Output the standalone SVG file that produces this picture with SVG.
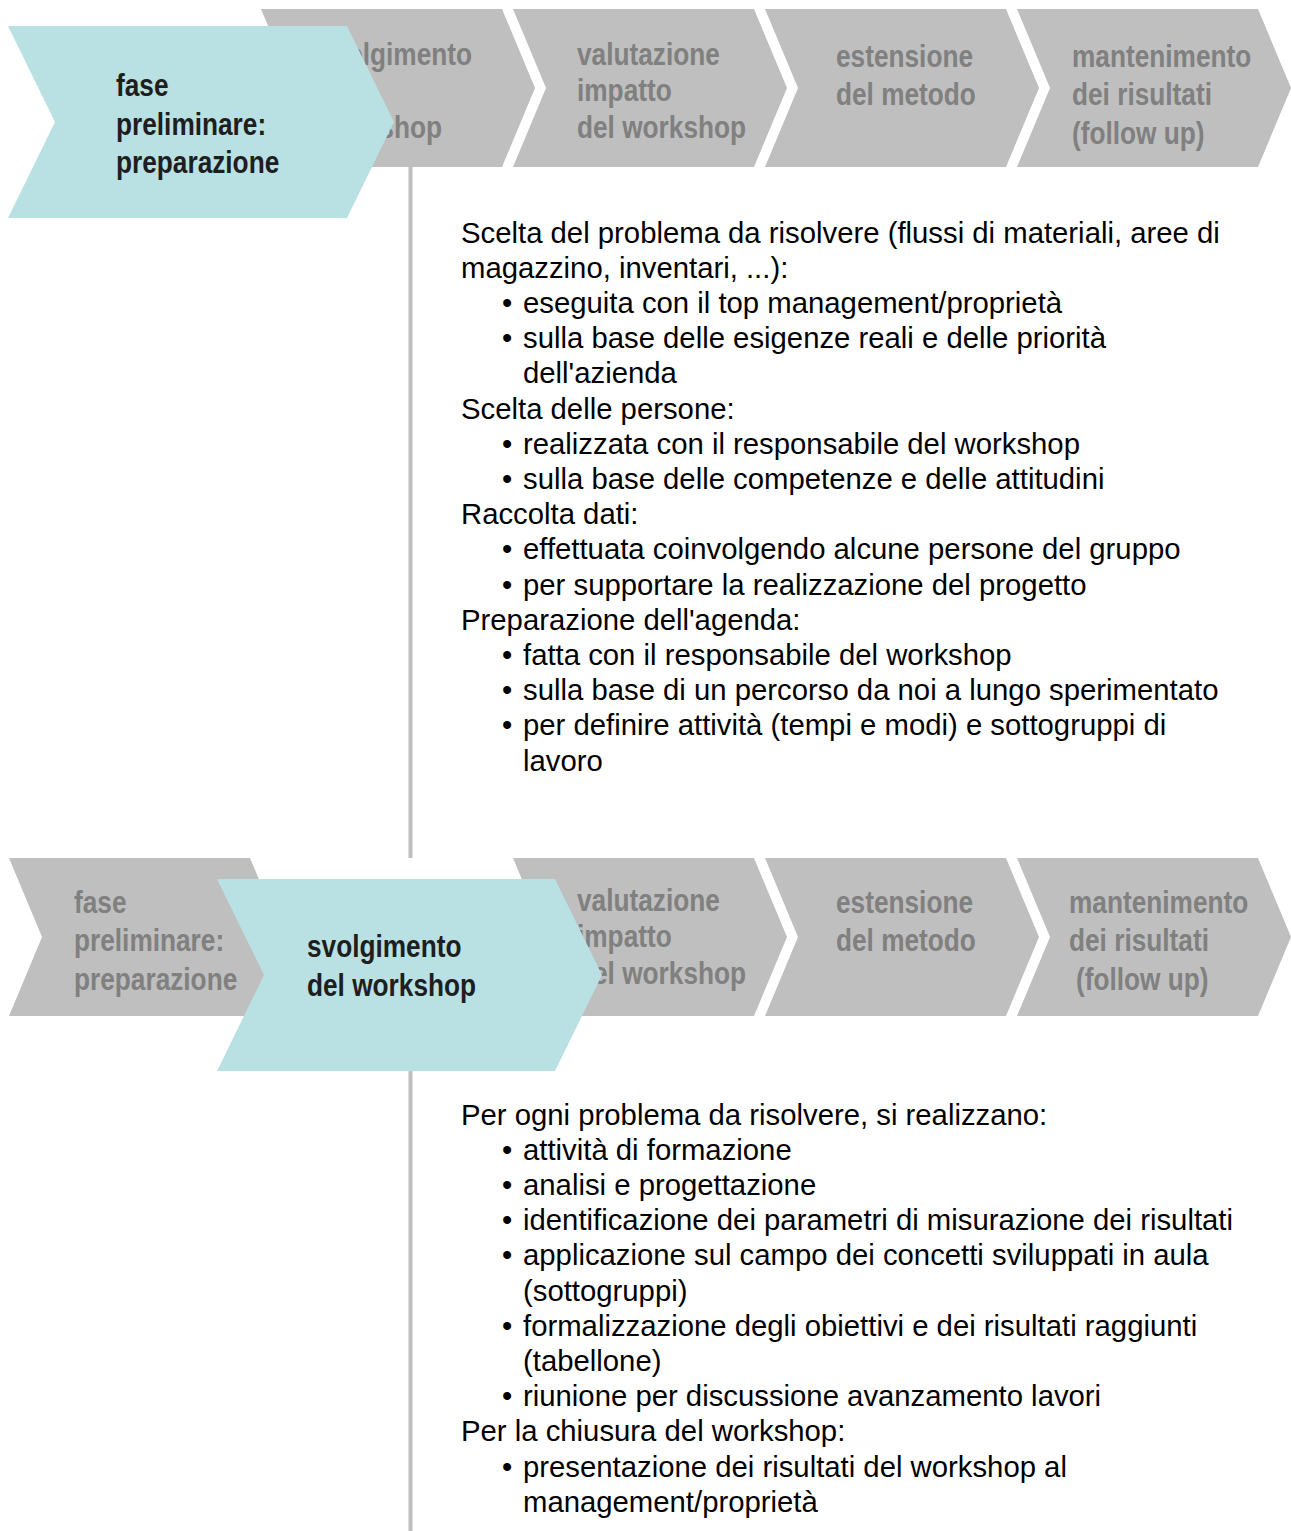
<svg xmlns="http://www.w3.org/2000/svg" width="1291" height="1531" viewBox="0 0 1291 1531">
<style>
.g{fill:#bfbfbf}
.b{fill:#b9e0e3}
.gt{font-family:"Liberation Sans",Arial,sans-serif;font-weight:bold;font-size:32px;fill:#808080}
.bt{font-family:"Liberation Sans",Arial,sans-serif;font-weight:bold;font-size:32px;fill:#1e1e1e}
.tx{font-family:"Liberation Sans",Arial,sans-serif;font-size:29.3px;fill:#000}
.ln{stroke:#bfbfbf;stroke-width:4;fill:none}
</style>
<rect width="1291" height="1531" fill="#fff"/>
<g id="connectors">
<line class="ln" x1="410.5" y1="166" x2="410.5" y2="858"/>
<line class="ln" x1="410.5" y1="1071" x2="410.5" y2="1531"/>
</g>
<!-- top row -->
<g id="top-svolgimento">
<path class="g" d="M261,9 H502 L535,88 L502,167 H261 L294,88 Z"/>
<text class="gt" text-anchor="end" transform="matrix(0.82,0,0,1,472,0)"><tspan x="0" y="65">svolgimento</tspan></text>
<text class="gt" text-anchor="end" transform="matrix(0.82,0,0,1,442,0)"><tspan x="0" y="138">del workshop</tspan></text>
</g>
<g id="top-valutazione">
<path class="g" d="M513,9 H754 L787,88 L754,167 H513 L546,88 Z"/>
<text class="gt" transform="matrix(0.82,0,0,1,577,0)"><tspan x="0" y="65">valutazione</tspan><tspan x="0" y="101">impatto</tspan><tspan x="0" y="138">del workshop</tspan></text>
</g>
<g id="top-estensione">
<path class="g" d="M765,9 H1006 L1039,88 L1006,167 H765 L798,88 Z"/>
<text class="gt" transform="matrix(0.82,0,0,1,836,0)"><tspan x="0" y="67">estensione</tspan><tspan x="0" y="105.5">del metodo</tspan></text>
</g>
<g id="top-mantenimento">
<path class="g" d="M1017,9 H1258 L1291,88 L1258,167 H1017 L1050,88 Z"/>
<text class="gt" transform="matrix(0.82,0,0,1,1072,0)"><tspan x="0" y="67">mantenimento</tspan><tspan x="0" y="105.5">dei risultati</tspan><tspan x="0" y="144">(follow up)</tspan></text>
</g>
<g id="top-fase-preliminare">
<path class="b" d="M8,26 H347 L394,122 L347,218 H8 L55,122 Z"/>
<text class="bt" transform="matrix(0.82,0,0,1,116,0)"><tspan x="0" y="96.5">fase</tspan><tspan x="0" y="135">preliminare:</tspan><tspan x="0" y="173.5">preparazione</tspan></text>
</g>
<g id="top-text">
<text class="tx">
<tspan x="461" y="242.5">Scelta del problema da risolvere (flussi di materiali, aree di</tspan>
<tspan x="461" y="277.7">magazzino, inventari, ...):</tspan>
<tspan x="502" y="312.9">•</tspan><tspan x="523" y="312.9">eseguita con il top management/proprietà</tspan>
<tspan x="502" y="348.1">•</tspan><tspan x="523" y="348.1">sulla base delle esigenze reali e delle priorità</tspan>
<tspan x="523" y="383.3">dell'azienda</tspan>
<tspan x="461" y="418.5">Scelta delle persone:</tspan>
<tspan x="502" y="453.7">•</tspan><tspan x="523" y="453.7">realizzata con il responsabile del workshop</tspan>
<tspan x="502" y="488.9">•</tspan><tspan x="523" y="488.9">sulla base delle competenze e delle attitudini</tspan>
<tspan x="461" y="524.1">Raccolta dati:</tspan>
<tspan x="502" y="559.3">•</tspan><tspan x="523" y="559.3">effettuata coinvolgendo alcune persone del gruppo</tspan>
<tspan x="502" y="594.5">•</tspan><tspan x="523" y="594.5">per supportare la realizzazione del progetto</tspan>
<tspan x="461" y="629.7">Preparazione dell'agenda:</tspan>
<tspan x="502" y="664.9">•</tspan><tspan x="523" y="664.9">fatta con il responsabile del workshop</tspan>
<tspan x="502" y="700.1">•</tspan><tspan x="523" y="700.1">sulla base di un percorso da noi a lungo sperimentato</tspan>
<tspan x="502" y="735.3">•</tspan><tspan x="523" y="735.3">per definire attività (tempi e modi) e sottogruppi di</tspan>
<tspan x="523" y="770.5">lavoro</tspan>
</text>
</g>
<!-- bottom row -->
<g id="bot-fase-preliminare">
<path class="g" d="M9,858 H250 L283,937 L250,1016 H9 L42,937 Z"/>
<text class="gt" transform="matrix(0.82,0,0,1,74,0)"><tspan x="0" y="913">fase</tspan><tspan x="0" y="951.5">preliminare:</tspan><tspan x="0" y="990">preparazione</tspan></text>
</g>
<g id="bot-valutazione">
<path class="g" d="M513,858 H754 L787,937 L754,1016 H513 L546,937 Z"/>
<text class="gt" transform="matrix(0.82,0,0,1,577,0)"><tspan x="0" y="911">valutazione</tspan><tspan x="0" y="947">impatto</tspan><tspan x="0" y="984">del workshop</tspan></text>
</g>
<g id="bot-estensione">
<path class="g" d="M765,858 H1006 L1039,937 L1006,1016 H765 L798,937 Z"/>
<text class="gt" transform="matrix(0.82,0,0,1,836,0)"><tspan x="0" y="913">estensione</tspan><tspan x="0" y="951.5">del metodo</tspan></text>
</g>
<g id="bot-mantenimento">
<path class="g" d="M1017,858 H1258 L1291,937 L1258,1016 H1017 L1050,937 Z"/>
<text class="gt" transform="matrix(0.82,0,0,1,1069,0)"><tspan x="0" y="913">mantenimento</tspan><tspan x="0" y="951.5">dei risultati</tspan><tspan x="8.5" y="990">(follow up)</tspan></text>
</g>
<g id="bot-svolgimento">
<path class="b" d="M217,879 H555 L602,975 L555,1071 H217 L264,975 Z"/>
<text class="bt" transform="matrix(0.82,0,0,1,307,0)"><tspan x="0" y="957">svolgimento</tspan><tspan x="0" y="996">del workshop</tspan></text>
</g>
<g id="bottom-text">
<text class="tx">
<tspan x="461" y="1124.5">Per ogni problema da risolvere, si realizzano:</tspan>
<tspan x="502" y="1159.7">•</tspan><tspan x="523" y="1159.7">attività di formazione</tspan>
<tspan x="502" y="1194.9">•</tspan><tspan x="523" y="1194.9">analisi e progettazione</tspan>
<tspan x="502" y="1230.1">•</tspan><tspan x="523" y="1230.1">identificazione dei parametri di misurazione dei risultati</tspan>
<tspan x="502" y="1265.3">•</tspan><tspan x="523" y="1265.3">applicazione sul campo dei concetti sviluppati in aula</tspan>
<tspan x="523" y="1300.5">(sottogruppi)</tspan>
<tspan x="502" y="1335.7">•</tspan><tspan x="523" y="1335.7">formalizzazione degli obiettivi e dei risultati raggiunti</tspan>
<tspan x="523" y="1370.9">(tabellone)</tspan>
<tspan x="502" y="1406.1">•</tspan><tspan x="523" y="1406.1">riunione per discussione avanzamento lavori</tspan>
<tspan x="461" y="1441.3">Per la chiusura del workshop:</tspan>
<tspan x="502" y="1476.5">•</tspan><tspan x="523" y="1476.5">presentazione dei risultati del workshop al</tspan>
<tspan x="523" y="1511.7">management/proprietà</tspan>
</text>
</g>
</svg>
